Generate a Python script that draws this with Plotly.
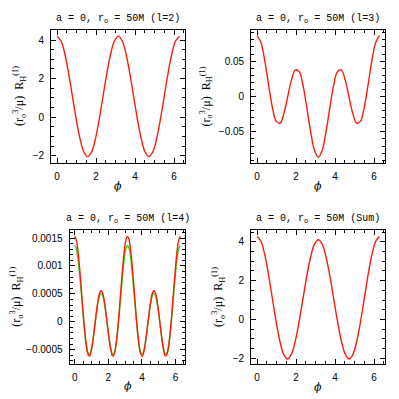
import plotly.graph_objects as go

# ---- data ----
phi_a = [0, 0.196, 0.393, 0.589, 0.785, 0.982, 1.178, 1.374, 1.571, 1.767, 1.963,
         2.160, 2.356, 2.553, 2.749, 2.945, 3.142, 3.338, 3.534, 3.731, 3.927,
         4.123, 4.320, 4.516, 4.712, 4.909, 5.105, 5.301, 5.498, 5.694, 5.890,
         6.087, 6.283]

r_l2 = [4.20, 3.96, 3.29, 2.27, 1.08, -0.12, -1.14, -1.81, -2.05, -1.81, -1.14,
        -0.12, 1.08, 2.27, 3.29, 3.96, 4.20, 3.96, 3.29, 2.27, 1.08, -0.12, -1.14,
        -1.81, -2.05, -1.81, -1.14, -0.12, 1.08, 2.27, 3.29, 3.96, 4.20]

r_l3 = [0.086, 0.0763, 0.0502, 0.0161, -0.0156, -0.0352, -0.0376, -0.0238, 0.0,
        0.0238, 0.0376, 0.0352, 0.0156, -0.0161, -0.0502, -0.0763, -0.086,
        -0.0763, -0.0502, -0.0161, 0.0156, 0.0352, 0.0376, 0.0238, 0.0, -0.0238,
        -0.0376, -0.0352, -0.0156, 0.0161, 0.0502, 0.0763, 0.086]

r_sum = [4.288, 4.040, 3.336, 2.287, 1.059, -0.157, -1.173, -1.835, -2.049, -1.788,
         -1.097, -0.086, 1.090, 2.255, 3.235, 3.887, 4.116, 3.887, 3.235, 2.255,
         1.090, -0.086, -1.097, -1.788, -2.049, -1.835, -1.173, -0.157, 1.059,
         2.287, 3.336, 4.040, 4.288]

phi_b = [0, 0.098, 0.196, 0.295, 0.393, 0.491, 0.589, 0.687, 0.785, 0.884, 0.982,
         1.080, 1.178, 1.276, 1.374, 1.473, 1.571, 1.669, 1.767, 1.865, 1.963,
         2.062, 2.160, 2.258, 2.356, 2.454, 2.553, 2.651, 2.749, 2.847, 2.945,
         3.043, 3.142, 3.240, 3.338, 3.436, 3.534, 3.632, 3.731, 3.829, 3.927,
         4.025, 4.123, 4.222, 4.320, 4.418, 4.516, 4.614, 4.712, 4.811, 4.909,
         5.007, 5.105, 5.203, 5.301, 5.400, 5.498, 5.596, 5.694, 5.792, 5.890,
         5.989, 6.087, 6.185, 6.283]

r_l4_red = [0.00153, 0.001459, 0.001256, 0.000948, 0.000578, 0.000194, -0.000152,
            -0.000419, -0.000575, -0.000615, -0.000523, -0.000345, -0.000108,
            0.000142, 0.000360, 0.000508, 0.000560, 0.000508, 0.000360, 0.000142,
            -0.000108, -0.000345, -0.000523, -0.000615, -0.000575, -0.000419,
            -0.000152, 0.000194, 0.000578, 0.000948, 0.001256, 0.001459, 0.00153,
            0.001459, 0.001256, 0.000948, 0.000578, 0.000194, -0.000152,
            -0.000419, -0.000575, -0.000615, -0.000523, -0.000345, -0.000108,
            0.000142, 0.000360, 0.000508, 0.000560, 0.000508, 0.000360, 0.000142,
            -0.000108, -0.000345, -0.000523, -0.000615, -0.000575, -0.000419,
            -0.000152, 0.000194, 0.000578, 0.000948, 0.001256, 0.001459, 0.00153]

r_l4_green = [0.00137, 0.001305, 0.001119, 0.000838, 0.000499, 0.000149, -0.000167,
              -0.000409, -0.000550, -0.000577, -0.000496, -0.000329, -0.000109,
              0.000123, 0.000325, 0.000462, 0.000510, 0.000462, 0.000325, 0.000123,
              -0.000109, -0.000329, -0.000496, -0.000577, -0.000550, -0.000409,
              -0.000167, 0.000149, 0.000499, 0.000838, 0.001119, 0.001305, 0.00137,
              0.001305, 0.001119, 0.000838, 0.000499, 0.000149, -0.000167,
              -0.000409, -0.000550, -0.000577, -0.000496, -0.000329, -0.000109,
              0.000123, 0.000325, 0.000462, 0.000510, 0.000462, 0.000325, 0.000123,
              -0.000109, -0.000329, -0.000496, -0.000577, -0.000550, -0.000409,
              -0.000167, 0.000149, 0.000499, 0.000838, 0.001119, 0.001305, 0.00137]

titles = ["a = 0, r<sub>o</sub> = 50M (l=2)", "a = 0, r<sub>o</sub> = 50M (l=3)",
          "a = 0, r<sub>o</sub> = 50M (l=4)", "a = 0, r<sub>o</sub> = 50M (Sum)"]

x_ticks = [0, 2, 4, 6]
y1_ticks = [-2, 0, 2, 4]
y1_text = ["−2", "0", "2", "4"]
y2_ticks = [-0.05, 0, 0.05]
y2_text = ["−0.05", "0", "0.05"]
y3_ticks = [-0.0005, 0, 0.0005, 0.001, 0.0015]
y3_text = ["−0.0005", "0", "0.0005", "0.001", "0.0015"]

# ---- layout geometry ----
W = H = 399
panels = [
    dict(x=(43.3, 177.3), y=(22, 155), yr=[-2.38, 4.52], yt=y1_ticks, ytt=y1_text, ymin=0.5, lab_x=11.5),
    dict(x=(243.3, 377.3), y=(22, 155), yr=[-0.094, 0.094], yt=y2_ticks, ytt=y2_text, ymin=0.01, lab_x=198),
    dict(x=(61.7, 177.3), y=(221.7, 355.7), yr=[-0.00075, 0.00165], yt=y3_ticks, ytt=y3_text, ymin=0.0001, lab_x=9),
    dict(x=(243.3, 377.3), y=(222, 356), yr=[-2.31, 4.62], yt=y1_ticks, ytt=y1_text, ymin=0.5, lab_x=211),
]

RED = "#ff1a0a"
GREEN = "#33dd11"

fig = go.Figure()
series = [
    [(phi_a, r_l2, RED)],
    [(phi_a, r_l3, RED)],
    [(phi_b, r_l4_green, GREEN), (phi_b, r_l4_red, RED)],
    [(phi_a, r_sum, RED)],
]
for i, lst in enumerate(series):
    sfx = "" if i == 0 else str(i + 1)
    for xs, ys, col in lst:
        fig.add_trace(go.Scatter(x=xs, y=ys, mode="lines",
                                 line=dict(color=col, width=1.4, shape="spline"),
                                 xaxis="x" + sfx, yaxis="y" + sfx,
                                 showlegend=False, hoverinfo="skip"))

TICKFONT = dict(family="Liberation Sans", size=10, color="black")
annotations = []
layout = dict(width=W, height=H, margin=dict(l=0, r=0, t=0, b=0),
              paper_bgcolor="white", plot_bgcolor="white", showlegend=False)
axis_common = dict(showline=True, linecolor="black", linewidth=1.3, mirror="ticks",
                   ticks="inside", ticklen=5, tickwidth=1, tickcolor="black",
                   showgrid=False, zeroline=False, tickfont=TICKFONT)
for i, p in enumerate(panels):
    sfx = "" if i == 0 else str(i + 1)
    xd = [p["x"][0] / W, p["x"][1] / W]
    yd = [1 - p["y"][1] / H, 1 - p["y"][0] / H]
    layout["xaxis" + sfx] = dict(axis_common, domain=xd, range=[-0.3, 6.58],
                                 tickvals=x_ticks, ticktext=[str(v) for v in x_ticks],
                                 anchor="y" + sfx, ticklabelstandoff=4,
                                 minor=dict(ticks="inside", ticklen=3, dtick=0.5, tick0=0,
                                            tickcolor="black", showgrid=False))
    layout["yaxis" + sfx] = dict(axis_common, domain=yd, range=p["yr"],
                                 tickvals=p["yt"], ticktext=p["ytt"],
                                 anchor="x" + sfx, ticklabelstandoff=4,
                                 minor=dict(ticks="inside", ticklen=3, dtick=p["ymin"], tick0=0,
                                            tickcolor="black", showgrid=False))
    xc = (xd[0] + xd[1]) / 2
    yc = (yd[0] + yd[1]) / 2
    annotations.append(dict(text=titles[i], x=xc, y=yd[1], xref="paper", yref="paper",
                            xanchor="center", yanchor="bottom", yshift=3, showarrow=False,
                            font=dict(family="Liberation Mono", size=10, color="black")))
    annotations.append(dict(text="<i>ϕ</i>", x=xc, y=yd[0], xref="paper", yref="paper",
                            xanchor="center", yanchor="middle", yshift=-23, showarrow=False,
                            font=dict(family="DejaVu Serif", size=11, color="black")))
    annotations.append(dict(text="(r<sub>o</sub><sup>3</sup>/μ)  R<sub>H</sub><sup>(1)</sup>",
                            x=p["lab_x"] / W, y=yc, xref="paper", yref="paper",
                            xanchor="center", yanchor="middle", textangle=-90, showarrow=False,
                            font=dict(family="Liberation Serif", size=12, color="black")))
layout["annotations"] = annotations
fig.update_layout(**layout)
fig.write_html("out.html", config={"displayModeBar": False})
